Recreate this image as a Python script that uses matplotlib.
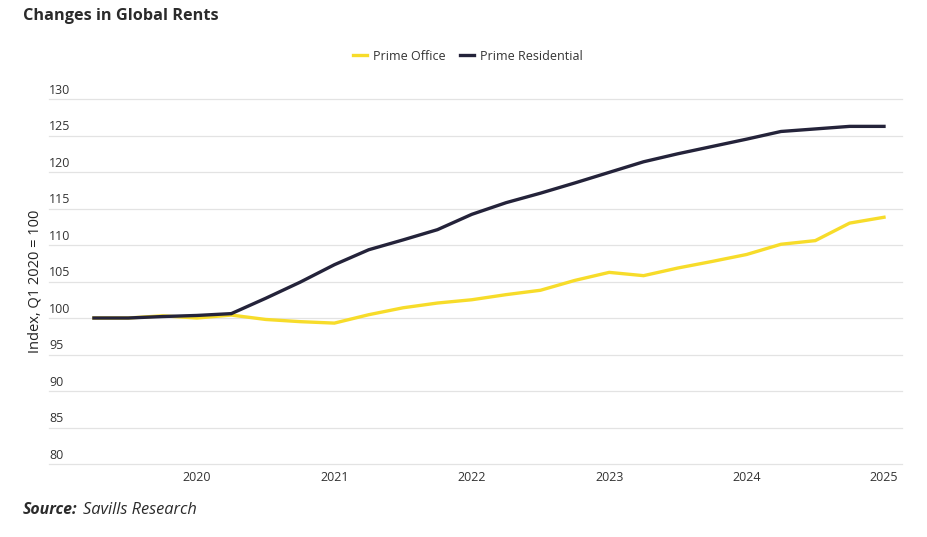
"""
Changes in Global Rents, Savills style line chart
"""
import numpy as np
import matplotlib
matplotlib.use("Agg")
from matplotlib import pyplot as plt
from matplotlib import transforms

plt.rcParams['font.family'] = ['Open Sans', 'DejaVu Sans']

# quarterly index, Q1 2020 = 100
quarters = [2019.25 + 0.25 * i for i in range(24)]
prime_office = [100.0, 100.0, 100.3, 100.0, 100.4, 99.8, 99.5, 99.3,
                100.45, 101.4, 102.05, 102.5, 103.2, 103.8, 105.15, 106.25,
                105.8, 106.85, 107.75, 108.7, 110.1, 110.6, 113.0, 113.8]
prime_residential = [100.0, 100.0, 100.2, 100.35, 100.6, 102.7, 104.9, 107.3,
                     109.35, 110.7, 112.1, 114.2, 115.8, 117.1, 118.5, 119.95,
                     121.4, 122.5, 123.5, 124.5, 125.55, 125.9, 126.25, 126.25]
years = [2020, 2021, 2022, 2023, 2024, 2025]
y_ticks = [80, 85, 90, 95, 100, 105, 110, 115, 120, 125, 130]

YELLOW = '#F7DC2A'
NAVY = '#24233A'
TXT = '#333333'

fig = plt.figure(figsize=(9.28, 5.37), dpi=100)
ax = fig.add_axes([49 / 928, 1 - 464 / 537, 853 / 928, 365 / 537])

ax.plot(quarters, prime_office, color=YELLOW, lw=2.4, label='Prime Office',
        solid_joinstyle='miter')
ax.plot(quarters, prime_residential, color=NAVY, lw=2.4, label='Prime Residential',
        solid_joinstyle='miter')

ax.set_xlim(2018.923, 2025.131)
ax.set_ylim(80, 130)

# horizontal grid lines
for v in y_ticks:
    ax.axhline(v, color='#E3E3E3', lw=0.9, zorder=0, clip_on=False)

# y labels sit just above their grid line, inside the plot
tr = transforms.blended_transform_factory(ax.transAxes, ax.transData)
for v in y_ticks:
    ax.text(0.0, v + 0.3, str(v), transform=tr, ha='left', va='bottom',
            fontsize=9, color=TXT)

ax.set_yticks([])
ax.set_xticks(years)
ax.set_xticklabels([str(y) for y in years], fontsize=9, color=TXT)
ax.tick_params(axis='x', length=0, pad=5)
for s in ax.spines.values():
    s.set_visible(False)

fig.text(35 / 928, 1 - 281.5 / 537, 'Index, Q1 2020 = 100', rotation=90,
         ha='center', va='center', fontsize=10.5, color='#222222')

fig.text(23 / 928, 1 - 16 / 537, 'Changes in Global Rents', ha='left',
         va='center', fontsize=11.7, fontweight='bold', color='#2B2B2B')

fig.legend(loc='center', bbox_to_anchor=(468 / 928, 1 - 56 / 537), ncol=2,
           frameon=False, fontsize=9, handlelength=1.1, handletextpad=0.5,
           columnspacing=1.2, labelcolor=TXT)

fig.text(23 / 928, 1 - 510 / 537, 'Source:', ha='left', va='center',
         fontsize=11.4, fontweight='bold', fontstyle='italic', color='#2B2B2B')
fig.text(83 / 928, 1 - 510 / 537, 'Savills Research', ha='left', va='center',
         fontsize=11.8, fontstyle='italic', color='#2B2B2B')

fig.savefig('out.png', dpi=100)
